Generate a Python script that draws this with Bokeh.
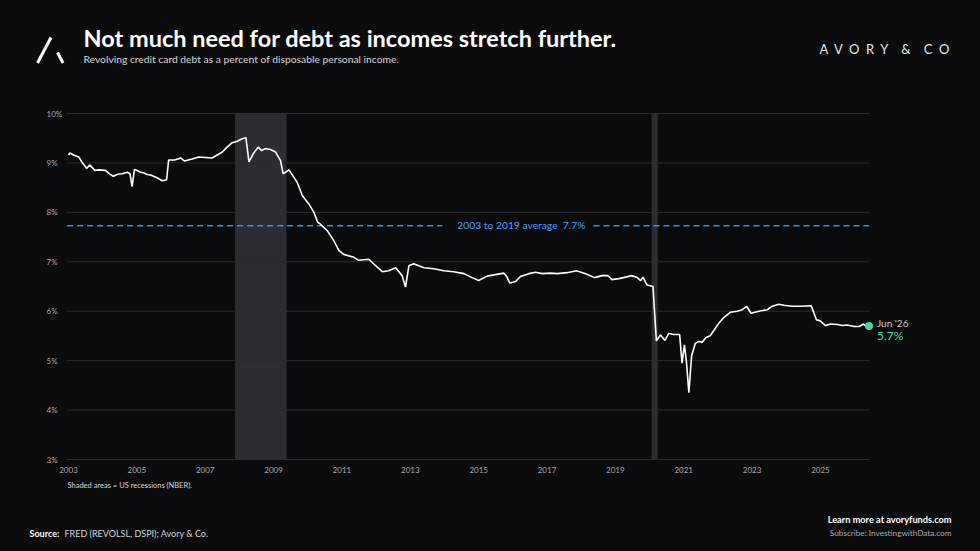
# Revolving credit card debt / disposable personal income

from bokeh.plotting import figure
from bokeh.models import (Label, LabelSet, Arrow, BoxAnnotation, GlobalInlineStyleSheet,
                          ColumnDataSource)
from bokeh.core.properties import value
from bokeh.embed import file_html
from bokeh.resources import INLINE

# ---- data ----
dates = [2003.00, 2003.04, 2003.15, 2003.30, 2003.40, 2003.53, 2003.62, 2003.77, 2003.90,
         2004.08, 2004.20, 2004.31, 2004.44, 2004.57, 2004.72, 2004.80, 2004.86, 2004.93,
         2005.02, 2005.11, 2005.20, 2005.28, 2005.42, 2005.59, 2005.74, 2005.87, 2005.93,
         2006.10, 2006.20, 2006.28, 2006.39, 2006.50, 2006.62, 2006.81, 2007.00, 2007.20,
         2007.35, 2007.50, 2007.64, 2007.79, 2007.94, 2008.08, 2008.19, 2008.28, 2008.40,
         2008.55, 2008.65, 2008.76, 2008.91, 2009.06, 2009.20, 2009.28, 2009.45, 2009.69,
         2009.84, 2010.03, 2010.18, 2010.29, 2010.37, 2010.57, 2010.76, 2010.91, 2011.05,
         2011.35, 2011.49, 2011.79, 2011.94, 2012.18, 2012.37, 2012.57, 2012.76, 2012.86,
         2012.96, 2013.10, 2013.40, 2013.69, 2013.98, 2014.27, 2014.57, 2014.81, 2015.00,
         2015.25, 2015.49, 2015.74, 2015.83, 2015.91, 2016.08, 2016.22, 2016.47, 2016.66,
         2016.86, 2017.10, 2017.30, 2017.59, 2017.86, 2018.13, 2018.39, 2018.61, 2018.78,
         2018.90, 2019.10, 2019.30, 2019.47, 2019.64, 2019.74, 2019.81, 2019.88, 2019.93,
         2020.10, 2020.20, 2020.32, 2020.45, 2020.56, 2020.71, 2020.88, 2020.95, 2021.02,
         2021.08, 2021.15, 2021.23, 2021.34, 2021.44, 2021.54, 2021.64, 2021.78, 2021.93,
         2022.03, 2022.17, 2022.37, 2022.56, 2022.71, 2022.84, 2022.97, 2023.20, 2023.44,
         2023.59, 2023.78, 2023.93, 2024.17, 2024.41, 2024.73, 2024.88, 2025.00, 2025.15,
         2025.29, 2025.49, 2025.64, 2025.78, 2025.98, 2026.13, 2026.26, 2026.33, 2026.42]
values = [9.16, 9.20, 9.16, 9.12, 9.01, 8.89, 8.96, 8.85, 8.86,
          8.85, 8.78, 8.73, 8.77, 8.78, 8.81, 8.78, 8.52, 8.87,
          8.84, 8.81, 8.80, 8.77, 8.75, 8.70, 8.64, 8.66, 9.06,
          9.06, 9.08, 9.10, 9.04, 9.06, 9.08, 9.12, 9.11, 9.10,
          9.16, 9.22, 9.32, 9.41, 9.44, 9.49, 9.51, 9.02, 9.18,
          9.32, 9.25, 9.29, 9.27, 9.22, 9.05, 8.78, 8.86, 8.61,
          8.34, 8.17, 8.00, 7.80, 7.76, 7.63, 7.43, 7.23, 7.15,
          7.09, 7.03, 7.05, 6.95, 6.80, 6.82, 6.88, 6.72, 6.49,
          6.92, 6.96, 6.88, 6.86, 6.82, 6.80, 6.76, 6.68, 6.62,
          6.71, 6.74, 6.77, 6.69, 6.57, 6.60, 6.70, 6.76, 6.79,
          6.76, 6.77, 6.76, 6.78, 6.82, 6.76, 6.68, 6.72, 6.72,
          6.64, 6.66, 6.69, 6.72, 6.68, 6.62, 6.69, 6.59, 6.53,
          6.50, 5.40, 5.52, 5.41, 5.55, 5.53, 5.53, 4.95, 5.32,
          4.97, 4.35, 5.10, 5.35, 5.39, 5.37, 5.46, 5.51, 5.66,
          5.76, 5.87, 5.98, 6.00, 6.03, 6.10, 5.96, 6.00, 6.03,
          6.10, 6.14, 6.12, 6.10, 6.10, 6.11, 5.83, 5.80, 5.71,
          5.74, 5.73, 5.71, 5.72, 5.69, 5.69, 5.74, 5.70, 5.70]

recession_start = [2007.87, 2020.06]
recession_end = [2009.38, 2020.24]

average_value = 7.73
average_text = "2003 to 2019 average\u00a0\u00a07.7%"
last_label = "Jun '26"
last_value_text = "5.7%"

y_ticks = [3, 4, 5, 6, 7, 8, 9, 10]
y_tick_labels = ["3%", "4%", "5%", "6%", "7%", "8%", "9%", "10%"]
x_ticks = [2003, 2005, 2007, 2009, 2011, 2013, 2015, 2017, 2019, 2021, 2023, 2025]
x_tick_labels = [str(t) for t in x_ticks]

# ---- style ----
BG = "#0b0b0e"
W, H = 964, 543
FONT = "Lato"
PX_YEAR, PX_PCT = 34.18, 49.43      # scale of the reference
X0_PAGE, Y10_PAGE = 68, 113         # where 2003 and 10% sit on the page

# the frame covers the whole canvas, so texts around the chart are not clipped
x_range = (2003 - X0_PAGE / PX_YEAR, 2003 + (W - X0_PAGE) / PX_YEAR)
y_range = (10 - (H - Y10_PAGE) / PX_PCT, 10 + Y10_PAGE / PX_PCT)

p = figure(width=W, height=H, x_range=x_range, y_range=y_range,
           x_axis_location=None, y_axis_location=None,
           output_backend="svg", toolbar_location=None, min_border=0,
           background_fill_color=BG, border_fill_color=BG, outline_line_color=None)
p.stylesheets = [GlobalInlineStyleSheet(css=f"html, body {{ background: {BG}; }}")]
p.grid.visible = False

# recessions
for a, b in zip(recession_start, recession_end):
    p.add_layout(BoxAnnotation(left=a, right=b, top=y_ticks[-1], bottom=y_ticks[0],
                               fill_color="#2d2c32", fill_alpha=1, line_color=None,
                               level="underlay"))

# horizontal grid lines up to the last observation
grid_x0 = dates[0] - 0.04
p.segment(x0=[grid_x0] * len(y_ticks), x1=[dates[-1]] * len(y_ticks), y0=y_ticks, y1=y_ticks,
          line_color="#2b2b30", line_width=1)

# tick labels
p.add_layout(LabelSet(source=ColumnDataSource(dict(x=[x_ticks[0]] * len(y_ticks), y=y_ticks,
                                                    t=y_tick_labels)),
                      x="x", y="y", text="t", x_offset=-22, text_align="left",
                      text_baseline="middle", text_font=value(FONT), text_font_size="8px",
                      text_color="#a9a9ad"))
p.add_layout(LabelSet(source=ColumnDataSource(dict(x=x_ticks, y=[y_ticks[0]] * len(x_ticks),
                                                    t=x_tick_labels)),
                      x="x", y="y", text="t", y_offset=-7, text_align="center",
                      text_baseline="top", text_font=value(FONT), text_font_size="8px",
                      text_color="#a9a9ad"))

# average line, broken where its label sits
gap = (2013.94, 2018.36)
p.segment(x0=[grid_x0, gap[1]], x1=[gap[0], dates[-1]], y0=[average_value] * 2,
          y1=[average_value] * 2, line_color="#3b8ff5", line_width=1.5, line_dash="6 4")
p.add_layout(Label(x=sum(gap) / 2 + 0.1, y=average_value, y_offset=1, text=average_text,
                   text_align="center", text_baseline="middle", text_font=FONT,
                   text_font_size="10.3px", text_color="#4c9cf2"))

src = ColumnDataSource(dict(x=dates, y=values))
p.line("x", "y", source=src, line_color="white", line_width=1.6)

p.scatter(x=[dates[-1]], y=[values[-1]], size=8, fill_color="#3ddba5", line_color=None)
p.add_layout(Label(x=dates[-1], y=values[-1], x_offset=8, y_offset=3, text=last_label,
                   text_baseline="middle", text_font=FONT, text_font_size="10px",
                   text_color="#cfcfd3"))
p.add_layout(Label(x=dates[-1], y=values[-1], x_offset=8, y_offset=-9, text=last_value_text,
                   text_baseline="middle", text_font=FONT, text_font_size="12px",
                   text_color="#3ddba5"))


# ---- texts around the chart (page coordinates -> screen units) ----
def sx(px):
    return px


def sy(py):
    return H - py


def txt(px, py, text, size, color, bold=False, align="left"):
    p.add_layout(Label(x=sx(px), y=sy(py), x_units="screen", y_units="screen", text=text,
                       text_font=FONT, text_font_size=size, text_color=color,
                       text_font_style="bold" if bold else "normal", text_align=align,
                       text_baseline="alphabetic"))


NB = "\u00a0"
brand = (NB * 2).join("AVORY") + NB * 4 + "&" + NB * 4 + (NB * 2).join("CO")

txt(83, 37, "Not much need for debt as incomes stretch further.", "23.5px", "white", bold=True)
txt(83, 58, "Revolving credit card debt as a percent of disposable personal income.", "10.3px", "#d4d4d8")
txt(949, 48, brand, "13px", "#e6e6e8", align="right")
txt(67, 485, "Shaded areas = US recessions (NBER).", "7.5px", "#d4d4d8")
txt(29, 533, "Source:", "9px", "white", bold=True)
txt(64, 533, "FRED (REVOLSL, DSPI); Avory & Co.", "9px", "#d4d4d8")
txt(951, 519, "Learn more at avoryfunds.com", "9.2px", "white", bold=True, align="right")
txt(951, 532, "Subscribe: InvestingwithData.com", "8.2px", "#a9a9ad", align="right")

# logo
for (x0, y0, x1, y1) in [(37, 62.5, 50.5, 37), (57, 52, 62.5, 62.5)]:
    p.add_layout(Arrow(end=None, x_start=sx(x0), y_start=sy(y0), x_end=sx(x1), y_end=sy(y1),
                       start_units="screen", end_units="screen", line_color="white", line_width=3))

open("out.html", "w").write(file_html(p, INLINE))
